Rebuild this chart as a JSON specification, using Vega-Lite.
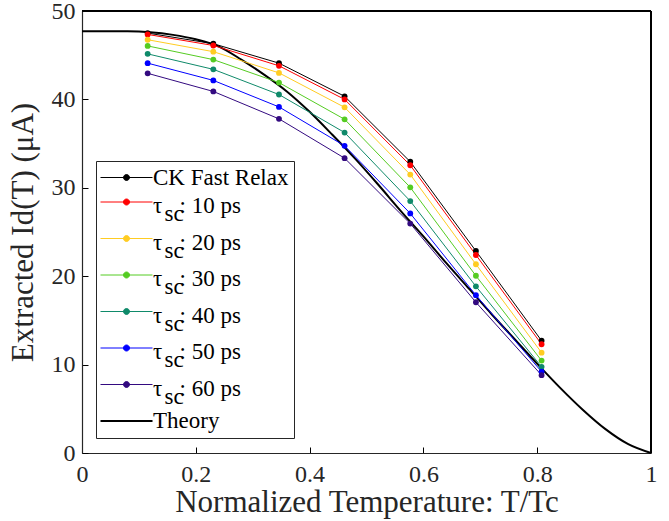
{
  "$schema": "https://vega.github.io/schema/vega-lite/v6.json",
  "width": 569,
  "height": 442,
  "autosize": "none",
  "padding": {"left": 82, "top": 11, "right": 18, "bottom": 68},
  "background": "white",
  "config": {
    "font": "Liberation Serif",
    "view": {"stroke": null},
    "axis": {
      "grid": false,
      "domainColor": "#262626",
      "domainWidth": 1.2,
      "labelColor": "#262626",
      "labelFont": "Liberation Serif",
      "labelFontSize": 24,
      "titleFont": "Liberation Serif",
      "titleFontSize": 31,
      "titleFontWeight": "normal",
      "titleColor": "#262626"
    }
  },
  "data": {
    "values": [
      {"x": 0.1154, "y": 47.5, "series": "CK Fast Relax"},
      {"x": 0.2308, "y": 46.3, "series": "CK Fast Relax"},
      {"x": 0.3462, "y": 44.1, "series": "CK Fast Relax"},
      {"x": 0.4615, "y": 40.35, "series": "CK Fast Relax"},
      {"x": 0.5769, "y": 32.95, "series": "CK Fast Relax"},
      {"x": 0.6923, "y": 22.85, "series": "CK Fast Relax"},
      {"x": 0.8077, "y": 12.7, "series": "CK Fast Relax"},
      {"x": 0.1154, "y": 47.35, "series": "10 ps"},
      {"x": 0.2308, "y": 46.1, "series": "10 ps"},
      {"x": 0.3462, "y": 43.8, "series": "10 ps"},
      {"x": 0.4615, "y": 40.0, "series": "10 ps"},
      {"x": 0.5769, "y": 32.55, "series": "10 ps"},
      {"x": 0.6923, "y": 22.4, "series": "10 ps"},
      {"x": 0.8077, "y": 12.3, "series": "10 ps"},
      {"x": 0.1154, "y": 46.75, "series": "20 ps"},
      {"x": 0.2308, "y": 45.4, "series": "20 ps"},
      {"x": 0.3462, "y": 43.0, "series": "20 ps"},
      {"x": 0.4615, "y": 39.1, "series": "20 ps"},
      {"x": 0.5769, "y": 31.5, "series": "20 ps"},
      {"x": 0.6923, "y": 21.35, "series": "20 ps"},
      {"x": 0.8077, "y": 11.35, "series": "20 ps"},
      {"x": 0.1154, "y": 46.05, "series": "30 ps"},
      {"x": 0.2308, "y": 44.5, "series": "30 ps"},
      {"x": 0.3462, "y": 41.9, "series": "30 ps"},
      {"x": 0.4615, "y": 37.75, "series": "30 ps"},
      {"x": 0.5769, "y": 30.05, "series": "30 ps"},
      {"x": 0.6923, "y": 20.05, "series": "30 ps"},
      {"x": 0.8077, "y": 10.45, "series": "30 ps"},
      {"x": 0.1154, "y": 45.15, "series": "40 ps"},
      {"x": 0.2308, "y": 43.4, "series": "40 ps"},
      {"x": 0.3462, "y": 40.55, "series": "40 ps"},
      {"x": 0.4615, "y": 36.25, "series": "40 ps"},
      {"x": 0.5769, "y": 28.5, "series": "40 ps"},
      {"x": 0.6923, "y": 18.85, "series": "40 ps"},
      {"x": 0.8077, "y": 9.75, "series": "40 ps"},
      {"x": 0.1154, "y": 44.1, "series": "50 ps"},
      {"x": 0.2308, "y": 42.15, "series": "50 ps"},
      {"x": 0.3462, "y": 39.15, "series": "50 ps"},
      {"x": 0.4615, "y": 34.75, "series": "50 ps"},
      {"x": 0.5769, "y": 27.1, "series": "50 ps"},
      {"x": 0.6923, "y": 17.85, "series": "50 ps"},
      {"x": 0.8077, "y": 9.2, "series": "50 ps"},
      {"x": 0.1154, "y": 42.95, "series": "60 ps"},
      {"x": 0.2308, "y": 40.9, "series": "60 ps"},
      {"x": 0.3462, "y": 37.8, "series": "60 ps"},
      {"x": 0.4615, "y": 33.35, "series": "60 ps"},
      {"x": 0.5769, "y": 25.95, "series": "60 ps"},
      {"x": 0.6923, "y": 17.05, "series": "60 ps"},
      {"x": 0.8077, "y": 8.8, "series": "60 ps"},
      {"x": 0.0, "y": 47.7, "series": "Theory"},
      {"x": 0.04, "y": 47.7, "series": "Theory"},
      {"x": 0.08, "y": 47.7, "series": "Theory"},
      {"x": 0.12, "y": 47.6, "series": "Theory"},
      {"x": 0.16, "y": 47.3, "series": "Theory"},
      {"x": 0.2, "y": 46.8, "series": "Theory"},
      {"x": 0.24, "y": 46.0, "series": "Theory"},
      {"x": 0.28, "y": 44.5, "series": "Theory"},
      {"x": 0.32, "y": 42.8, "series": "Theory"},
      {"x": 0.36, "y": 40.9, "series": "Theory"},
      {"x": 0.4, "y": 38.6, "series": "Theory"},
      {"x": 0.44, "y": 36.0, "series": "Theory"},
      {"x": 0.48, "y": 33.3, "series": "Theory"},
      {"x": 0.52, "y": 30.4, "series": "Theory"},
      {"x": 0.56, "y": 27.4, "series": "Theory"},
      {"x": 0.6, "y": 24.5, "series": "Theory"},
      {"x": 0.64, "y": 21.5, "series": "Theory"},
      {"x": 0.68, "y": 18.6, "series": "Theory"},
      {"x": 0.72, "y": 15.7, "series": "Theory"},
      {"x": 0.76, "y": 12.9, "series": "Theory"},
      {"x": 0.8, "y": 10.1, "series": "Theory"},
      {"x": 0.84, "y": 7.4, "series": "Theory"},
      {"x": 0.88, "y": 4.9, "series": "Theory"},
      {"x": 0.92, "y": 2.7, "series": "Theory"},
      {"x": 0.96, "y": 1.0, "series": "Theory"},
      {"x": 1.0, "y": 0.0, "series": "Theory"}
    ]
  },
  "layer": [
    {
      "transform": [{"filter": "datum.series === 'Theory'"}],
      "mark": {"type": "line", "strokeWidth": 2, "interpolate": "monotone"},
      "encoding": {
        "x": {
          "field": "x", "type": "quantitative",
          "scale": {"domain": [0, 1], "nice": false, "zero": false},
          "axis": {
            "orient": "bottom",
            "values": [0, 0.2, 0.4, 0.6, 0.8, 1],
            "format": "~g",
            "tickSize": -6,
            "tickColor": "black",
            "tickWidth": 1,
            "labelPadding": 15,
            "labelFlush": false,
            "title": "Normalized Temperature: T/Tc",
            "titlePadding": 1
          }
        },
        "y": {
          "field": "y", "type": "quantitative",
          "scale": {"domain": [0, 50], "nice": false},
          "axis": {
            "orient": "left",
            "values": [0, 10, 20, 30, 40, 50],
            "tickSize": -6,
            "tickColor": "black",
            "tickWidth": 1,
            "labelPadding": 13,
            "labelFlush": false,
            "title": "Extracted Id(T) (μA)",
            "titlePadding": 12
          }
        },
        "color": {
          "field": "series", "type": "nominal",
          "scale": {
            "domain": ["CK Fast Relax", "10 ps", "20 ps", "30 ps", "40 ps", "50 ps", "60 ps", "Theory"],
            "range": ["#000000", "#ff0000", "#ffcc22", "#55cc22", "#0f8a6a", "#0000ff", "#330a80", "#000000"]
          },
          "legend": {
            "title": null,
            "orient": "none",
            "legendX": 14,
            "legendY": 150,
            "direction": "vertical",
            "fillColor": "white",
            "strokeColor": "#262626",
            "padding": 5,
            "rowPadding": 0.5,
            "symbolSize": 100,
            "symbolOffset": 14,
            "labelOffset": 15,
            "labelFont": "Liberation Serif",
            "labelFontSize": 23,
            "labelColor": "#000000",
            "labelLimit": 300,
            "labelExpr": "datum.value === 'CK Fast Relax' || datum.value === 'Theory' ? datum.value : ['τ\u00a0\u00a0\u00a0: ' + datum.value, '\u200b\u00a0\u00a0sc']",
            "encode": {
              "symbols": {
                "update": {
                  "shape": {"signal": "datum.value === 'Theory' ? 'M-5.2,0H5.2' : 'M-5.2,0H5.2M0.6,0A0.6,0.6,0,1,1,-0.6,0A0.6,0.6,0,1,1,0.6,0Z'"},
                  "size": {"value": 100},
                  "fill": {"scale": "color", "field": "value"},
                  "stroke": {"scale": "color", "field": "value"},
                  "strokeWidth": {"signal": "datum.value === 'Theory' ? 2 : 1"},
                  "opacity": {"value": 1},
                  "fillOpacity": {"value": 1},
                  "strokeOpacity": {"value": 1}
                }
              },
              "labels": {
                "update": {
                  "lineHeight": {"value": 8},
                  "dy": {"signal": "datum.value === 'CK Fast Relax' || datum.value === 'Theory' ? 0 : 4"}
                }
              }
            }
          }
        }
      }
    },
    {
      "transform": [{"filter": "datum.series !== 'Theory'"}],
      "mark": {"type": "line", "strokeWidth": 1, "point": {"filled": true, "size": 34, "opacity": 1}},
      "encoding": {
        "x": {"field": "x", "type": "quantitative"},
        "y": {"field": "y", "type": "quantitative"},
        "color": {"field": "series", "type": "nominal"}
      }
    },
    {
      "mark": {"type": "rule", "color": "black", "strokeWidth": 1.2},
      "encoding": {
        "y": {"datum": 50, "type": "quantitative"},
        "x": {"datum": 0, "type": "quantitative"},
        "x2": {"datum": 1}
      }
    },
    {
      "mark": {"type": "rule", "color": "black", "strokeWidth": 1.2},
      "encoding": {
        "x": {"datum": 1, "type": "quantitative"},
        "y": {"datum": 0, "type": "quantitative"},
        "y2": {"datum": 50}
      }
    }
  ]
}
